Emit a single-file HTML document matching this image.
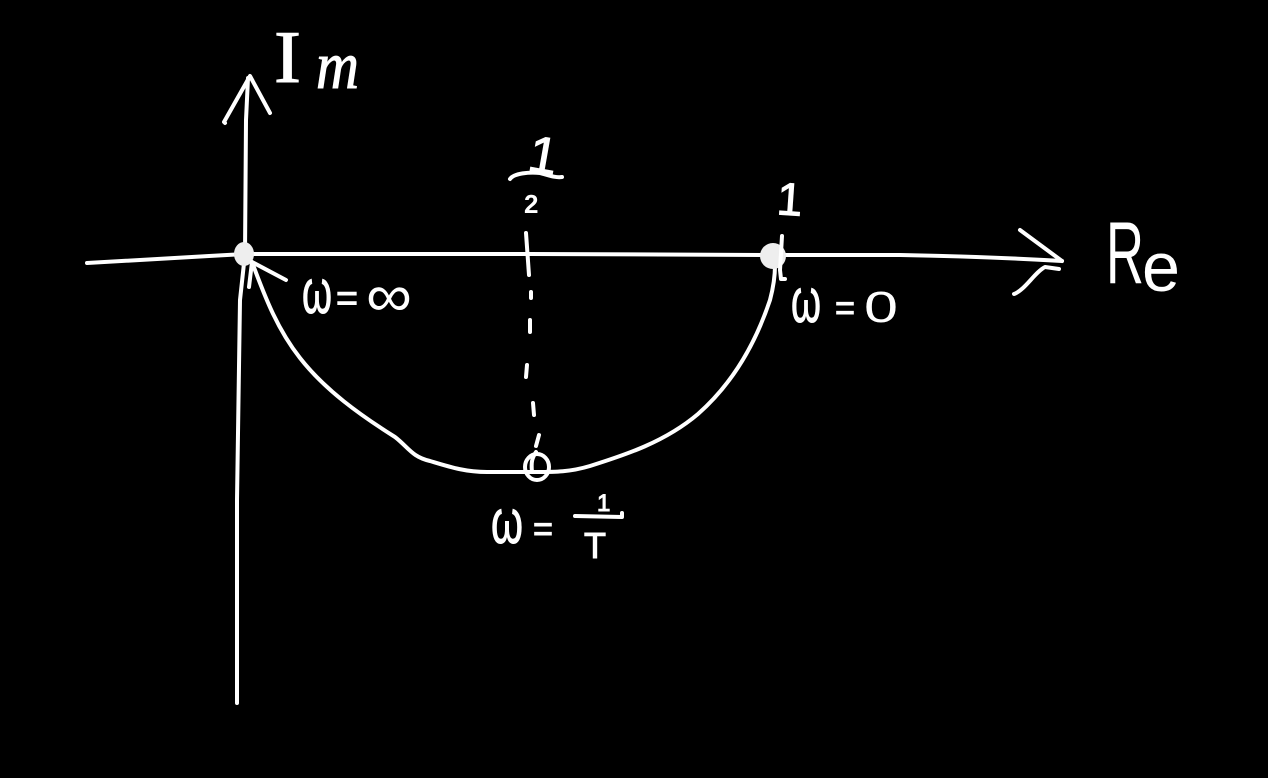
<!DOCTYPE html>
<html><head><meta charset="utf-8"><title>Im Re diagram</title>
<style>html,body{margin:0;padding:0;background:#000}svg{display:block}
text{fill:#fff;font-family:"Liberation Sans",sans-serif}
.s{fill:none;stroke:#fff;stroke-width:4;stroke-linecap:round;stroke-linejoin:round}
.b{stroke:#fff;stroke-width:1}</style></head>
<body>
<svg width="1268" height="778" viewBox="0 0 1268 778" xmlns="http://www.w3.org/2000/svg">
<rect width="1268" height="778" fill="#000"/>
<path class="s" d="M87 263C130 261 190 257 245 254L530 254L775 255L900 255C960 256 1010 258 1062 261"/>
<path class="s" d="M1020 230L1062 261M1014 294C1025 290 1035 272 1045 267L1059 269"/>
<path class="s" d="M237 703L237 500C238 400 239 340 240 300L245 254L246 120L248 78"/>
<path class="s" d="M225 123L224 122L250 76L270 113"/>
<ellipse cx="244" cy="254" rx="10" ry="12" fill="#eee"/>
<path class="s" d="M249 287L252 262L286 280"/>
<path class="s" d="M252 262C266 300 278 330 300 358C325 390 360 415 395 437C408 447 412 457 430 461C450 467 465 472 487 472L537 472C555 472 570 472 590 466C625 455 665 442 698 414C732 384 755 345 770 300C774 285 775 275 775 265"/>
<circle cx="773" cy="256" r="13" fill="#eee"/>
<path class="s" d="M782 236L780 270L781 279L785 279"/>
<path class="s" d="M526 233L529 275M531 292L531 298M530 320L530 332M527 365L526 377M533 403L534 415M539 435L536 446"/>
<ellipse cx="537" cy="467" rx="12" ry="13" fill="none" stroke="#fff" stroke-width="4"/>
<path class="s" d="M536 452C532 458 531 462 532 472"/>
<path class="s" d="M510 179C514 173 530 172 540 173C548 175 555 178 562 177"/>
<path class="s" d="M575 516L622 517L622 513"/>
<text x="274" y="82" font-size="74" style="font-family:'Liberation Serif',serif" class="b" textLength="27" lengthAdjust="spacingAndGlyphs">I</text>
<text x="316" y="88" font-size="68" font-style="italic" class="b" style="font-family:'Liberation Serif',serif" textLength="43" lengthAdjust="spacingAndGlyphs">m</text>
<text x="1106" y="283" font-size="88" textLength="38" lengthAdjust="spacingAndGlyphs">R</text>
<text x="1142" y="291" font-size="70" textLength="38" lengthAdjust="spacingAndGlyphs">e</text>
<text x="302" y="313" font-size="62" class="b" textLength="30" lengthAdjust="spacingAndGlyphs">ω</text>
<text x="336" y="311" font-size="38" class="b" textLength="22" lengthAdjust="spacingAndGlyphs">=</text>
<text x="366" y="316" font-size="60" textLength="46" lengthAdjust="spacingAndGlyphs">∞</text>
<text x="791" y="322" font-size="62" class="b" textLength="30" lengthAdjust="spacingAndGlyphs">ω</text>
<text x="835" y="320" font-size="36" class="b" textLength="20" lengthAdjust="spacingAndGlyphs">=</text>
<text x="864" y="322" font-size="44" textLength="34" lengthAdjust="spacingAndGlyphs">0</text>
<text x="491" y="543" font-size="62" class="b" textLength="32" lengthAdjust="spacingAndGlyphs">ω</text>
<text x="533" y="541" font-size="36" class="b" textLength="20" lengthAdjust="spacingAndGlyphs">=</text>
<text x="597" y="511" font-size="24" class="b">1</text>
<text x="584" y="558" font-size="36" class="b">T</text>
<text x="526" y="172" font-size="52" class="b" transform="rotate(10 535 172)">1</text>
<text x="524" y="213" font-size="26" font-weight="bold">2</text>
<text x="776" y="215" font-size="46" class="b" transform="rotate(4 788 215)">1</text>
</svg>
</body></html>
